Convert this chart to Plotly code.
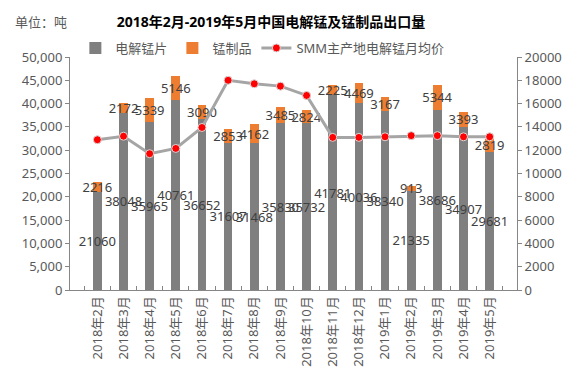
import plotly.graph_objects as go

months = ["2018年2月", "2018年3月", "2018年4月", "2018年5月", "2018年6月", "2018年7月",
          "2018年8月", "2018年9月", "2018年10月", "2018年11月", "2018年12月", "2019年1月",
          "2019年2月", "2019年3月", "2019年4月", "2019年5月"]
flakes = [21060, 38048, 35965, 40761, 36652, 31607, 31468, 35830, 35732, 41781, 40036, 38340,
          21335, 38686, 34907, 29681]
products = [2216, 2172, 5339, 5146, 3090, 2853, 4162, 3485, 2824, 2225, 4469, 3167,
            913, 5344, 3393, 2819]
price = [12900, 13200, 11700, 12150, 13950, 18000, 17700, 17500, 16700, 13100, 13100, 13150,
         13250, 13250, 13150, 13150]

FONT = "Noto Sans, Noto Sans CJK SC, sans-serif"
LBL = dict(family=FONT, size=13, color="#404040")

fig = go.Figure()
fig.add_trace(go.Bar(
    x=months, y=flakes, name="电解锰片", marker=dict(color="#7F7F7F", line=dict(width=0)),
    width=0.33, text=[str(v) for v in flakes], textposition="inside",
    insidetextanchor="middle", textangle=0, constraintext="none",
    insidetextfont=LBL, cliponaxis=False,
))
fig.add_trace(go.Bar(
    x=months, y=products, name="锰制品", marker=dict(color="#ED7D31", line=dict(width=0)),
    width=0.33, text=[str(v) for v in products], textposition="inside",
    insidetextanchor="middle", textangle=0, constraintext="none",
    insidetextfont=LBL, cliponaxis=False,
))
fig.add_trace(go.Scatter(
    x=months, y=price, name="SMM主产地电解锰月均价", yaxis="y2", mode="lines+markers",
    line=dict(color="#A5A5A5", width=3),
    marker=dict(color="#FF0000", size=8, line=dict(color="#D9D9D9", width=1)),
))

fig.update_layout(
    width=583, height=386,
    margin=dict(l=70, r=66, t=57, b=96, autoexpand=False),
    paper_bgcolor="white", plot_bgcolor="white",
    barmode="stack",
    font=dict(family=FONT, size=13, color="#595959"),
    title=dict(text="<b>2018年2月-2019年5月中国电解锰及锰制品出口量</b>",
               x=0.465, xref="container", xanchor="center",
               y=1 - 22 / 386, yref="container", yanchor="middle",
               font=dict(family=FONT, size=14, color="#000000")),
    showlegend=True,
    legend=dict(orientation="h", traceorder="normal", x=0.012, xanchor="left",
                y=(290 - 48) / 233, yanchor="middle",
                font=dict(family=FONT, size=13, color="#595959"),
                bgcolor="rgba(0,0,0,0)", itemwidth=30, tracegroupgap=0),
    xaxis=dict(type="category", showgrid=False, showline=True, linecolor="#868686",
               linewidth=1, ticks="inside", ticklen=4, tickcolor="#868686",
               tickson="boundaries", tickangle=-90, automargin=False,
               tickfont=dict(family=FONT, size=13, color="#595959")),
    yaxis=dict(range=[0, 50000], dtick=5000, tickformat=",", showgrid=False,
               showline=True, linecolor="#868686", linewidth=1, ticks="outside",
               ticklen=4, tickcolor="#868686", zeroline=False, automargin=False,
               tickfont=dict(family=FONT, size=13, color="#595959")),
    yaxis2=dict(range=[0, 20000], dtick=2000, overlaying="y", side="right",
                showgrid=False, showline=True, linecolor="#868686", linewidth=1,
                ticks="outside", ticklen=4, tickcolor="#868686", zeroline=False,
                tickformat="d", automargin=False,
                tickfont=dict(family=FONT, size=13, color="#595959")),
)
fig.add_annotation(text="单位：吨", xref="paper", yref="paper",
                   x=(13 - 70) / 447, y=(290 - 22) / 233, xanchor="left", yanchor="middle",
                   showarrow=False, font=dict(family=FONT, size=13, color="#595959"))

fig.write_html("out.html", config={"displayModeBar": False},
               post_script="document.body.style.margin='0';")
